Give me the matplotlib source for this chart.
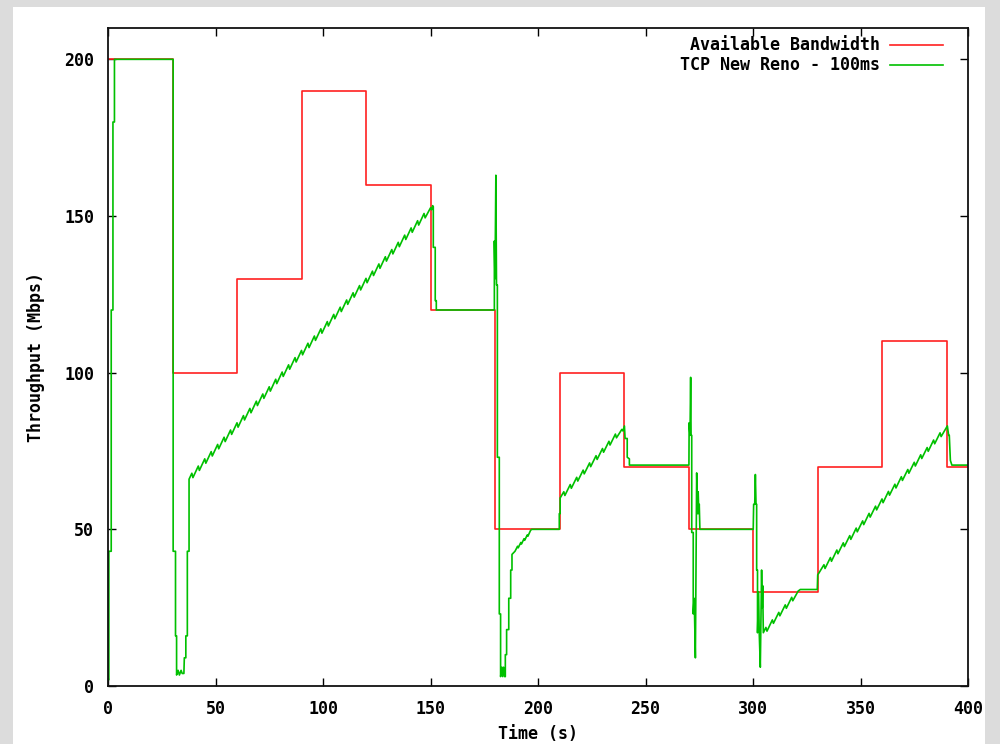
import matplotlib
matplotlib.use("Agg")
import matplotlib.pyplot as plt
from matplotlib.patches import Rectangle

# available bandwidth (step changes every 30 s)
bw_t = [0, 30, 60, 90, 120, 150, 180, 210, 240, 270, 300, 330, 360, 390, 400]
bw_v = [200, 100, 130, 190, 160, 120, 50, 100, 70, 50, 30, 70, 110, 70, 70]

# TCP New Reno throughput
tcp_start = [(0, 2), (0.4, 2), (0.4, 43), (1.5, 43), (1.5, 120), (2.3, 120), (2.3, 180),
             (3.0, 180), (3.0, 200), (30.3, 200), (30.3, 43), (31.4, 43), (31.4, 16),
             (31.9, 16), (31.9, 3.5), (32.6, 5), (33.2, 3.5), (34, 5), (34.5, 4), (35.3, 4),
             (35.5, 9), (36.2, 9), (36.2, 16), (36.9, 16), (36.9, 43), (37.7, 43), (37.7, 66)]
tcp_ramp1 = [(39, 67.9), (39.5, 66.5), (42, 70.2), (42.5, 68.8), (45, 72.5), (45.5, 71.1),
             (48, 74.8), (48.5, 73.4), (51, 77.1), (51.5, 75.7), (54, 79.4), (54.5, 78.0),
             (57, 81.7), (57.5, 80.3), (60, 84.0), (60.5, 82.6), (63, 86.3), (63.5, 84.9),
             (66, 88.6), (66.5, 87.2), (69, 90.9), (69.5, 89.5), (72, 93.2), (72.5, 91.8),
             (75, 95.5), (75.5, 94.1), (78, 97.9), (78.5, 96.5), (81, 100.2), (81.5, 98.8),
             (84, 102.5), (84.5, 101.1), (87, 104.8), (87.5, 103.4), (90, 107.1), (90.5, 105.7),
             (93, 109.4), (93.5, 108.0), (96, 111.7), (96.5, 110.3), (99, 114.0), (99.5, 112.6),
             (102, 116.3), (102.5, 114.9), (105, 118.6), (105.5, 117.2), (108, 120.9), (108.5, 119.5),
             (111, 123.2), (111.5, 121.8), (114, 125.5), (114.5, 124.1), (117, 127.8), (117.5, 126.4),
             (120, 130.1), (120.5, 128.7), (123, 132.4), (123.5, 131.0), (126, 134.7), (126.5, 133.3),
             (129, 137.0), (129.5, 135.6), (132, 139.3), (132.5, 137.9), (135, 141.6), (135.5, 140.2),
             (138, 143.9), (138.5, 142.5), (141, 146.2), (141.5, 144.8), (144, 148.5), (144.5, 147.1),
             (147, 150.8), (147.5, 149.4), (150, 152.6), (150.5, 152.0), (151.0, 153.3)]
tcp_mid = [(151.3, 153), (151.3, 140), (152.2, 140), (152.2, 123), (152.7, 123), (152.7, 120),
           (179.7, 120), (179.7, 142), (180.0, 130), (180.4, 163), (180.7, 128), (181.1, 128),
           (181.1, 73), (182.0, 73), (182.0, 23), (182.6, 23), (182.6, 3), (183.2, 6), (183.6, 3),
           (184.0, 6), (184.5, 3), (184.8, 3), (184.8, 10), (185.4, 10), (185.4, 18), (186.4, 18),
           (186.4, 28), (187.3, 28), (187.3, 37), (187.9, 37), (187.9, 42), (189.3, 43),
           (190.5, 44.6), (190.8, 44.1), (192, 45.8), (192.3, 45.3), (193.5, 47), (193.8, 46.5),
           (195, 48.2), (195.3, 47.8), (196.5, 49.6), (197, 50), (209.9, 50)]
tcp_ramp2 = [(209.9, 55), (210.3, 55), (210.3, 60), (212, 62.0), (212.5, 60.8), (215, 64.3),
             (215.5, 63.1), (218, 66.6), (218.5, 65.4), (221, 68.9), (221.5, 67.7), (224, 71.2),
             (224.5, 70.0), (227, 73.5), (227.5, 72.3), (230, 75.8), (230.5, 74.6), (233, 78.1),
             (233.5, 76.9), (236, 80.4), (236.5, 79.2), (239, 81.9), (239.5, 81.4), (240.2, 83.0),
             (240.5, 79), (241.5, 79), (241.5, 73), (242.5, 72.5), (242.5, 70.5), (270.2, 70.5)]
tcp_270 = [(270.3, 84), (270.7, 80), (271.0, 98.5), (271.2, 80), (271.5, 80), (271.5, 49),
           (272.2, 49), (272.2, 23), (272.6, 28), (272.8, 23), (273.2, 9), (273.5, 40),
           (273.8, 68), (274.2, 55), (274.5, 62), (274.8, 55), (275.0, 58), (275.3, 50), (300.1, 50)]
tcp_300 = [(300.3, 58), (300.8, 58), (301.1, 67.5), (301.4, 58), (301.7, 58), (301.7, 37),
           (302.1, 37), (302.1, 17), (302.6, 30), (302.9, 17), (303.4, 6), (303.6, 17),
           (304.0, 37), (304.3, 25), (304.5, 32), (304.8, 17), (306, 18.7), (306.5, 17.5),
           (309, 21.1), (309.5, 20.0), (312, 23.5), (312.5, 22.4), (315, 25.9), (315.5, 24.8),
           (318, 28.3), (318.5, 27.2), (321, 30.3), (322, 30.8), (329.9, 30.8), (330.1, 35.5),
           (330.6, 36)]
tcp_ramp3 = [(333, 38.7), (333.5, 37.5), (336, 41.0), (336.5, 39.8), (339, 43.4), (339.5, 42.2),
             (342, 45.7), (342.5, 44.5), (345, 48.0), (345.5, 46.8), (348, 50.4), (348.5, 49.2),
             (351, 52.7), (351.5, 51.5), (354, 55.1), (354.5, 53.9), (357, 57.4), (357.5, 56.2),
             (360, 59.7), (360.5, 58.5), (363, 62.1), (363.5, 60.9), (366, 64.4), (366.5, 63.2),
             (369, 66.8), (369.5, 65.6), (372, 69.1), (372.5, 67.9), (375, 71.4), (375.5, 70.2),
             (378, 73.8), (378.5, 72.6), (381, 76.1), (381.5, 74.9), (384, 78.5), (384.5, 77.3),
             (387, 80.8), (387.5, 79.6), (390.4, 83.0), (391.0, 80), (391.3, 80), (391.8, 72),
             (392.5, 70.5), (400, 70.5)]

tcp = tcp_start + tcp_ramp1 + tcp_mid + tcp_ramp2 + tcp_270 + tcp_300 + tcp_ramp3
tcp_t = [p[0] for p in tcp]
tcp_v = [p[1] for p in tcp]

x_ticks = [0, 50, 100, 150, 200, 250, 300, 350, 400]
y_ticks = [0, 50, 100, 150, 200]

font = {'family': 'DejaVu Sans Mono', 'weight': 'bold', 'size': 12}

fig = plt.figure(figsize=(10, 7.44), dpi=100, facecolor='#dcdcdc')
# white page behind the plot, grey margin round it
fig.patches.append(Rectangle((0.013, 0), 0.972, 1 - 7 / 744, transform=fig.transFigure,
                             facecolor='white', edgecolor='none', zorder=-10))

ax = fig.add_axes([0.108, 58 / 744, 0.86, 658 / 744])
ax.set_facecolor('white')

ax.plot(bw_t, bw_v, drawstyle='steps-post', color='#ff2020', lw=1.2,
        label='Available Bandwidth')
ax.plot(tcp_t, tcp_v, color='#00c000', lw=1.2, label='TCP New Reno - 100ms')

ax.set_xlim(0, 400)
ax.set_ylim(0, 210)
ax.set_xticks(x_ticks)
ax.set_yticks(y_ticks)
ax.tick_params(direction='in', length=6, width=1, top=True, right=True, pad=10)
for lab in ax.get_xticklabels() + ax.get_yticklabels():
    lab.set_fontfamily('DejaVu Sans Mono')
    lab.set_fontweight('bold')
    lab.set_fontsize(12)
for s in ax.spines.values():
    s.set_linewidth(1.3)
    s.set_color('#111111')

ax.set_xlabel('Time (s)', fontdict=font, labelpad=5)
ax.set_ylabel('Throughput (Mbps)', fontdict=font, labelpad=14)

leg = ax.legend(loc='upper right', frameon=False, markerfirst=False, prop=font,
                handlelength=3.2, handletextpad=0.6, labelspacing=0.12,
                borderaxespad=0.3, bbox_to_anchor=(0.985, 1.005))

fig.savefig('out.png', dpi=100, facecolor=fig.get_facecolor())
